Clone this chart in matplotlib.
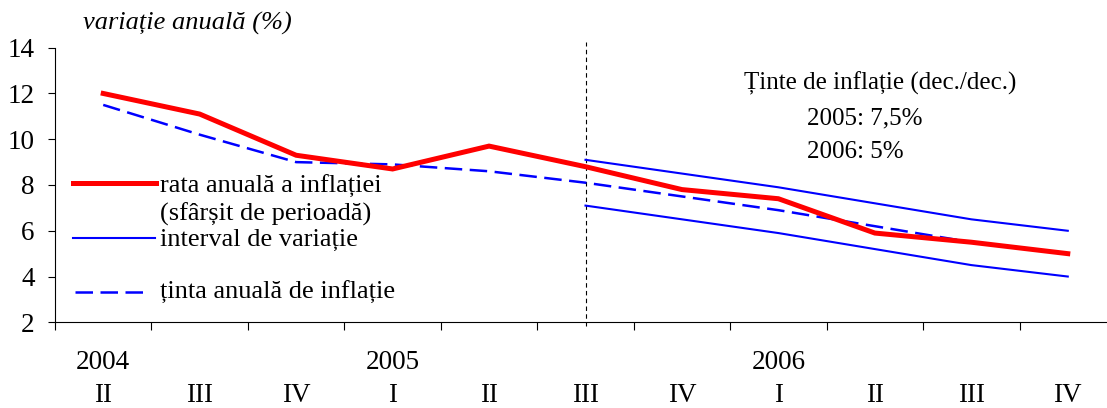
import numpy as np
import matplotlib
matplotlib.use('Agg')
import matplotlib.pyplot as plt

plt.rcParams['font.family'] = ['Liberation Serif', 'DejaVu Serif']

# quarters 2004 Q2 .. 2006 Q4
quarters = ['II', 'III', 'IV', 'I', 'II', 'III', 'IV', 'I', 'II', 'III', 'IV']
years = ['2004', '2005', '2006']
year_pos = [0, 3, 7]

rata_anuala = [12.0, 11.1, 9.3, 8.7, 9.7, 8.8, 7.8, 7.4, 5.9, 5.5, 5.0]
tinta_anuala = [11.5, 10.2, 9.0, 8.9, 8.6, 8.1, 7.5, 6.9, 6.2, 5.5, 5.0]

# variation band, from 2005 Q3 onwards
band_start = 5
band_upper = [9.1, 8.5, 7.9, 7.2, 6.5, 6.0]
band_lower = [7.1, 6.5, 5.9, 5.2, 4.5, 4.0]

W, H = 1107, 408
fig = plt.figure(figsize=(W / 100, H / 100), dpi=100)


def px(x, y):
    # pixel coords -> figure fraction
    return x / W, 1 - y / H


ax = fig.add_axes([55 / W, (H - 322.3) / H, (1116 - 55) / W, (322.3 - 47.7) / H])

x = np.arange(len(quarters))
xb = np.arange(band_start, len(quarters))

ax.plot(xb, band_upper, color='#0000ff', lw=1.5, zorder=2)
ax.plot(xb, band_lower, color='#0000ff', lw=1.5, zorder=2)
ax.plot(x, tinta_anuala, color='#0000ff', lw=1.8, dashes=(7, 3), zorder=3)
ax.plot(x, rata_anuala, color='#ff0000', lw=3.6, zorder=4, solid_joinstyle='miter')

# separator between history and projection
ax.plot([band_start, band_start], [1.85, 14.27], color='black', lw=0.8,
        dashes=(4, 3), clip_on=False, zorder=1)

ax.set_xlim(-0.5, len(quarters) - 0.5)
ax.set_ylim(2, 14)
ax.set_yticks(range(2, 15, 2))
ax.tick_params(axis='y', labelsize=19.5, length=5, pad=9.5)
ax.set_xticks(np.arange(-0.5, len(quarters), 1))
ax.set_xticklabels([])
ax.tick_params(axis='x', length=6)
ax.spines['top'].set_visible(False)
ax.spines['right'].set_visible(False)

for i, q in enumerate(quarters):
    ax.text(i, -0.265, q, transform=ax.get_xaxis_transform(), ha='center',
            va='center', fontsize=19.5)
for p, yr in zip(year_pos, years):
    ax.text(p, -0.147, yr, transform=ax.get_xaxis_transform(), ha='center',
            va='center', fontsize=19.5)

fig.text(*px(83, 23), 'variație anuală (%)', style='italic', fontsize=19,
         ha='left', va='center')

# legend drawn by hand
fs = 19
fig.add_artist(plt.Line2D([73 / W, 156 / W], [1 - 182.7 / H] * 2, color='#ff0000', lw=3.6))
fig.text(*px(160, 186), 'rata anuală a inflației', fontsize=fs, va='center')
fig.text(*px(160, 214), '(sfârșit de perioadă)', fontsize=fs, va='center')
fig.add_artist(plt.Line2D([73 / W, 155 / W], [1 - 237.7 / H] * 2, color='#0000ff', lw=1.5))
fig.text(*px(160, 240), 'interval de variație', fontsize=fs, va='center')
fig.add_artist(plt.Line2D([75 / W, 150 / W], [1 - 292 / H] * 2, color='#0000ff', lw=1.8,
                          dashes=(7, 3)))
fig.text(*px(160, 292), 'ținta anuală de inflație', fontsize=fs, va='center')

fig.text(*px(744, 83), 'Ținte de inflație (dec./dec.)', fontsize=18, va='center')
fig.text(*px(807, 118), '2005: 7,5%', fontsize=18, va='center')
fig.text(*px(807, 152), '2006: 5%', fontsize=18, va='center')

fig.savefig('out.png', dpi=100)
